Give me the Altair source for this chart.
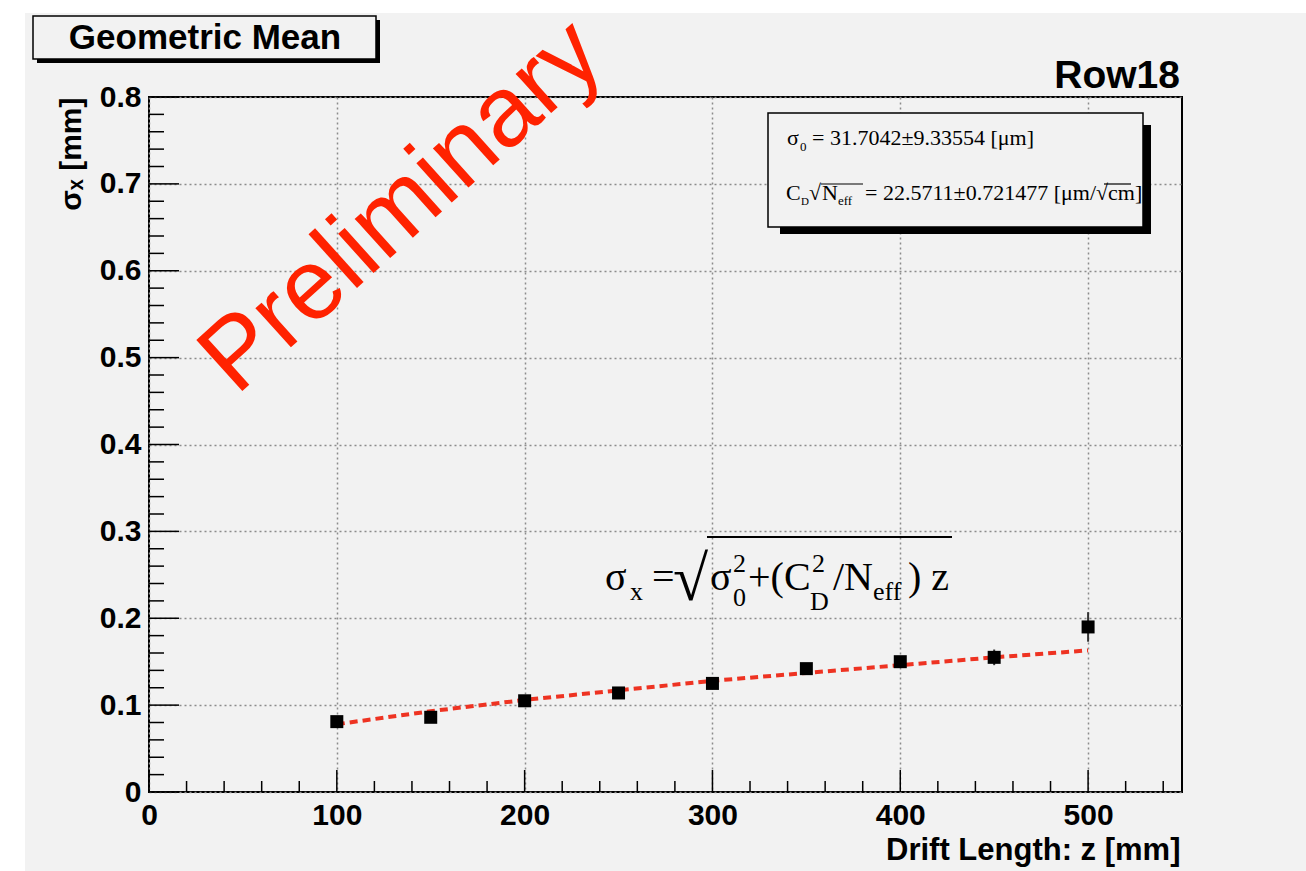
import altair as alt
import pandas as pd

# ---------------- data ----------------
drift_mm = [100, 150, 200, 250, 300, 350, 400, 450, 500]
sigma_mm = [0.081, 0.086, 0.105, 0.114, 0.125, 0.142, 0.150, 0.155, 0.190]
sigma_err = [0.004, 0.004, 0.005, 0.005, 0.005, 0.005, 0.006, 0.009, 0.017]
fit_mm = [0.078, 0.093, 0.106, 0.117, 0.128, 0.137, 0.146, 0.155, 0.163]

x_major = [0, 100, 200, 300, 400, 500]
x_minor = [20, 40, 60, 80, 120, 140, 160, 180, 220, 240, 260, 280, 320, 340,
           360, 380, 420, 440, 460, 480, 520, 540]
y_major = [0, 0.1, 0.2, 0.3, 0.4, 0.5, 0.6, 0.7, 0.8]
y_minor = [0.02, 0.04, 0.06, 0.08, 0.12, 0.14, 0.16, 0.18, 0.22, 0.24, 0.26, 0.28,
           0.32, 0.34, 0.36, 0.38, 0.42, 0.44, 0.46, 0.48, 0.52, 0.54, 0.56, 0.58,
           0.62, 0.64, 0.66, 0.68, 0.72, 0.74, 0.76, 0.78]

# ---------------- layout ----------------
W, H = 1033, 695
PAD = {"left": 149, "top": 97, "right": 124, "bottom": 79}
SANS = "Liberation Sans"
SERIF = "Liberation Serif"
BG = "#f2f2f2"

df = pd.DataFrame({"z": drift_mm, "sigma": sigma_mm, "fit": fit_mm})
df["lo"] = [s - e for s, e in zip(sigma_mm, sigma_err)]
df["hi"] = [s + e for s, e in zip(sigma_mm, sigma_err)]

xs = alt.Scale(domain=[0, 550], nice=False, zero=False)
ys = alt.Scale(domain=[0, 0.8], nice=False, zero=False)

x_axis = alt.Axis(values=x_major, format="d", labelFont=SANS, labelFontSize=30,
                  labelFontWeight="bold", labelColor="black", labelPadding=8,
                  labelFlush=False, labelOverlap=False,
                  ticks=False, domain=False, grid=True, gridDash=[2, 3],
                  gridColor="#8c8c8c", gridWidth=1.5,
                  title="Drift Length: z [mm]", titleFont=SANS, titleFontSize=31,
                  titleFontWeight="bold", titleColor="black", titleX=1031, titleY=67,
                  titleAlign="right", titleBaseline="alphabetic")
y_axis = alt.Axis(values=y_major, format="~g", labelFont=SANS, labelFontSize=30,
                  labelFontWeight="bold", labelColor="black", labelPadding=8,
                  labelFlush=False, labelOverlap=False,
                  ticks=False, domain=False, grid=True, gridDash=[2, 3],
                  gridColor="#8c8c8c", gridWidth=1.5,
                  title="σₓ [mm]", titleFont=SANS, titleFontSize=30,
                  titleFontWeight="bold", titleColor="black", titleX=-69, titleY=0,
                  titleAngle=270, titleAlign="right", titleBaseline="alphabetic")

X = lambda f: alt.X(f, scale=xs, axis=x_axis)
Y = lambda f: alt.Y(f, scale=ys, axis=y_axis)

one = alt.Data(values=[{"a": 1}])


def txt(s, x, y, size, font=SANS, weight="normal", align="left",
        baseline="alphabetic", color="black", angle=None):
    kw = dict(text=s, fontSize=size, font=font, fontWeight=weight, align=align,
              baseline=baseline, color=color)
    if angle is not None:
        kw["angle"] = angle
    return alt.Chart(one).mark_text(**kw).encode(x=alt.value(x), y=alt.value(y))


def rect(x1, x2, y1, y2, fill, stroke=None, sw=0):
    kw = dict(fill=fill)
    if stroke:
        kw.update(stroke=stroke, strokeWidth=sw)
    return alt.Chart(one).mark_rect(**kw).encode(
        x=alt.value(x1), x2=alt.value(x2), y=alt.value(y1), y2=alt.value(y2))


def hline(x1, x2, y, w=1.5):
    return alt.Chart(one).mark_rule(color="black", strokeWidth=w).encode(
        x=alt.value(x1), x2=alt.value(x2), y=alt.value(y))


base = alt.Chart(df)

errbars = base.mark_rule(color="#333333", strokeWidth=2).encode(
    x=X("z:Q"), y=Y("lo:Q"), y2="hi:Q")
points = base.mark_square(size=169, color="black", opacity=1).encode(
    x=X("z:Q"), y=Y("sigma:Q"))
fit = base.mark_line(color="#ee3322", strokeWidth=4, strokeDash=[8, 5]).encode(
    x=X("z:Q"), y=Y("fit:Q"))

xmin_t = alt.Chart(pd.DataFrame({"z": x_minor})).mark_rule(color="black", strokeWidth=1.5).encode(
    x=X("z:Q"), y=alt.value(H), y2=alt.value(H - 11))
xmaj_t = alt.Chart(pd.DataFrame({"z": x_major})).mark_rule(color="black", strokeWidth=1.5).encode(
    x=X("z:Q"), y=alt.value(H), y2=alt.value(H - 22))
ymin_t = alt.Chart(pd.DataFrame({"sigma": y_minor})).mark_rule(color="black", strokeWidth=1.5).encode(
    y=Y("sigma:Q"), x=alt.value(0), x2=alt.value(15))
ymaj_t = alt.Chart(pd.DataFrame({"sigma": y_major})).mark_rule(color="black", strokeWidth=1.5).encode(
    y=Y("sigma:Q"), x=alt.value(0), x2=alt.value(30))

# white margins of the canvas
margins = [
    rect(-149, -124, -97, H + 79, "white"),
    rect(-149, W + 124, -97, -84, "white"),
]

# "Geometric Mean" title box
title_box = [
    rect(-112, 231, -77, -34, "black"),
    rect(-116, 227, -81, -38, BG, "black", 1.5),
    txt("Geometric Mean", 56, -59, 35, weight="bold", align="center", baseline="middle"),
]
row_title = [txt("Row18", 1031, -9, 39, weight="bold", align="right")]

# stats box
stats = [
    rect(631, 1002, 28, 137, "black"),
    rect(619, 994, 16, 130, BG, "black", 1.5),
    txt("σ", 638, 48, 22, font=SERIF),
    txt("0", 651, 54, 13, font=SERIF),
    txt("= 31.7042±9.33554 [μm]", 663, 48, 22, font=SERIF),
    txt("C", 637, 103, 22, font=SERIF),
    txt("D", 652, 108, 11, font=SERIF),
    txt("√", 660, 103, 22, font=SERIF),
    hline(672, 714, 87, 1.2),
    txt("N", 673, 103, 22, font=SERIF),
    txt("eff", 689, 108, 13, font=SERIF),
    txt("= 22.5711±0.721477 [μm/√cm]", 716, 103, 22, font=SERIF),
    hline(955, 982, 87, 1.2),
]

# formula
formula = [
    txt("σ", 456, 493, 40, font=SERIF),
    txt("x", 481, 503, 26, font=SERIF),
    txt("=", 503, 493, 40, font=SERIF),
    txt("√", 524, 503, 64, font=SERIF),
    hline(558, 803, 440, 2),
    txt("σ", 561, 493, 40, font=SERIF),
    txt("2", 584, 475, 26, font=SERIF),
    txt("0", 584, 509, 26, font=SERIF),
    txt("+(C", 599, 493, 40, font=SERIF),
    txt("2", 663, 475, 26, font=SERIF),
    txt("D", 661, 513, 26, font=SERIF),
    txt("/N", 684, 493, 40, font=SERIF),
    txt("eff", 724, 503, 26, font=SERIF),
    txt(") z", 759, 493, 40, font=SERIF),
]

watermark = [txt("Preliminary", 253, 110, 100, color="#ff2200", align="center",
                 baseline="middle", angle=318)]

chart = alt.layer(
    errbars, *margins, xmin_t, xmaj_t, ymin_t, ymaj_t, fit, points,
    *title_box, *row_title, *stats, *formula, *watermark
).properties(
    width=W, height=H, padding=PAD,
    autosize=alt.AutoSizeParams(type="none"),
    background=BG,
).configure_view(stroke="black", strokeWidth=2, fill=BG)

chart.save("out.html", embed_options={"renderer": "svg", "actions": False})
